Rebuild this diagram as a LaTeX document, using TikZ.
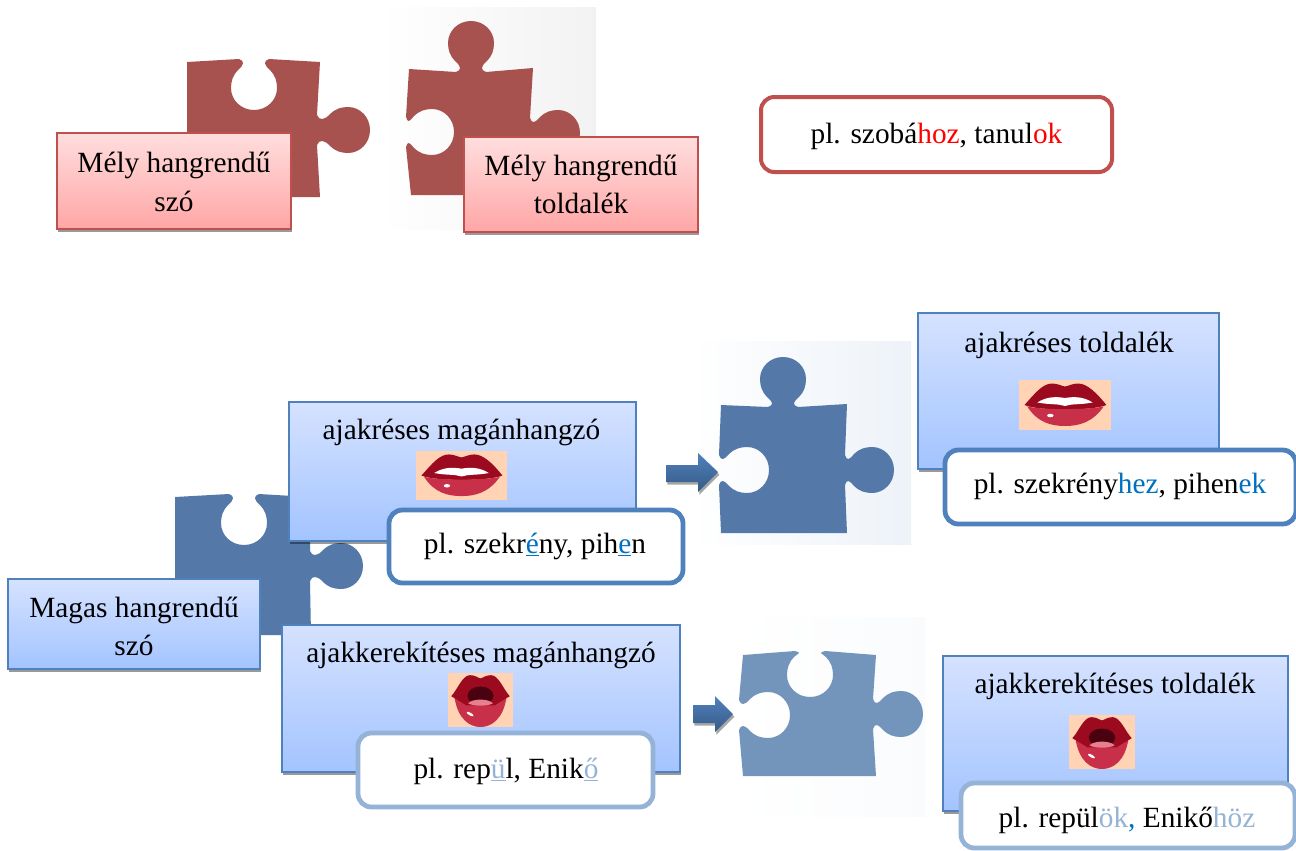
\documentclass[tikz,border=0pt]{standalone}
\usepackage{fontspec}
\setmainfont{Liberation Serif}
\usetikzlibrary{shadows}
\definecolor{redpz}{HTML}{A8524F}
\definecolor{bluepz}{HTML}{5479A9}
\definecolor{lightpz}{HTML}{7395BC}
\definecolor{redline}{HTML}{C0504D}
\definecolor{blueline}{HTML}{4F81BD}
\definecolor{paleline}{HTML}{95B3D7}
\definecolor{txtblue}{HTML}{0070C0}
\definecolor{peach}{HTML}{FFD3B4}
\newcommand{\ptab}[4]{%
 -- ([shift={(#1,#2)},rotate=#3]-#4,-15)
 .. controls ([shift={(#1,#2)},rotate=#3]{2-#4},-9) and ([shift={(#1,#2)},rotate=#3]-23,-10) .. ([shift={(#1,#2)},rotate=#3]-18,-16)
 .. controls ([shift={(#1,#2)},rotate=#3]-13,-21) and ([shift={(#1,#2)},rotate=#3]-7,-23) .. ([shift={(#1,#2)},rotate=#3]0,-23)
 .. controls ([shift={(#1,#2)},rotate=#3]12,-23) and ([shift={(#1,#2)},rotate=#3]22,-13) .. ([shift={(#1,#2)},rotate=#3]22,0)
 .. controls ([shift={(#1,#2)},rotate=#3]22,13) and ([shift={(#1,#2)},rotate=#3]12,23) .. ([shift={(#1,#2)},rotate=#3]0,23)
 .. controls ([shift={(#1,#2)},rotate=#3]-7,23) and ([shift={(#1,#2)},rotate=#3]-13,21) .. ([shift={(#1,#2)},rotate=#3]-18,16)
 .. controls ([shift={(#1,#2)},rotate=#3]-23,10) and ([shift={(#1,#2)},rotate=#3]{2-#4},9) .. ([shift={(#1,#2)},rotate=#3]-#4,15)}
\newcommand{\pnotch}[4]{%
 -- ([shift={(#1,#2)},rotate=#3]-#4,15)
 .. controls ([shift={(#1,#2)},rotate=#3]{2-#4},9) and ([shift={(#1,#2)},rotate=#3]-23,10) .. ([shift={(#1,#2)},rotate=#3]-18,16)
 .. controls ([shift={(#1,#2)},rotate=#3]-13,21) and ([shift={(#1,#2)},rotate=#3]-7,23) .. ([shift={(#1,#2)},rotate=#3]0,23)
 .. controls ([shift={(#1,#2)},rotate=#3]12,23) and ([shift={(#1,#2)},rotate=#3]22,13) .. ([shift={(#1,#2)},rotate=#3]22,0)
 .. controls ([shift={(#1,#2)},rotate=#3]22,-13) and ([shift={(#1,#2)},rotate=#3]12,-23) .. ([shift={(#1,#2)},rotate=#3]0,-23)
 .. controls ([shift={(#1,#2)},rotate=#3]-7,-23) and ([shift={(#1,#2)},rotate=#3]-13,-21) .. ([shift={(#1,#2)},rotate=#3]-18,-16)
 .. controls ([shift={(#1,#2)},rotate=#3]-23,-10) and ([shift={(#1,#2)},rotate=#3]{2-#4},-9) .. ([shift={(#1,#2)},rotate=#3]-#4,-15)}
% wide lips: x y w h in px
\newcommand{\widelips}[4]{%
 \begin{scope}[shift={(#1,#2)},x=#3*0.75pt,y=-#4*0.75pt]
  \fill[peach] (0,0) rectangle (1,1);
  \fill[lipdark] (.06,.5) .. controls (.18,.25) and (.26,.07) .. (.36,.07) .. controls (.42,.07) and (.46,.12) .. (.5,.13) .. controls (.54,.12) and (.58,.07) .. (.64,.07) .. controls (.74,.07) and (.84,.25) .. (.95,.5) .. controls (.8,.62) and (.2,.62) .. cycle;
  \fill[liplow] (.09,.53) .. controls (.2,.85) and (.35,.92) .. (.5,.92) .. controls (.65,.92) and (.8,.85) .. (.92,.53) .. controls (.75,.6) and (.25,.6) .. cycle;
  \fill[white] (.2,.45) .. controls (.3,.33) and (.4,.33) .. (.5,.36) .. controls (.6,.33) and (.7,.33) .. (.8,.45) .. controls (.65,.5) and (.58,.47) .. (.5,.52) .. controls (.42,.47) and (.35,.5) .. cycle;
  \fill[white] (.34,.71) ellipse (.035 and .035);
 \end{scope}}
\newcommand{\roundlips}[4]{%
 \begin{scope}[shift={(#1,#2)},x=#3*0.75pt,y=-#4*0.75pt]
  \fill[peach] (0,0) rectangle (1,1);
  \fill[liplow] (.1,.45) .. controls (.15,.85) and (.33,1) .. (.5,1) .. controls (.67,1) and (.85,.85) .. (.9,.45) -- cycle;
  \fill[lipdark] (.05,.43) .. controls (.15,.3) and (.22,.04) .. (.34,.04) .. controls (.42,.04) and (.46,.09) .. (.5,.1) .. controls (.54,.09) and (.58,.04) .. (.66,.04) .. controls (.78,.04) and (.85,.3) .. (.95,.43) .. controls (.85,.5) and (.78,.55) .. (.72,.6) -- (.28,.6) .. controls (.22,.55) and (.15,.5) .. cycle;
  \fill[lipin] (.5,.42) ellipse (.2 and .17);
  \fill[lipton] (.31,.56) .. controls (.38,.47) and (.62,.47) .. (.69,.56) .. controls (.62,.62) and (.38,.62) .. cycle;
  \fill[white,rotate around={-30:(.34,.76)}] (.34,.76) ellipse (.06 and .025);
 \end{scope}}
\definecolor{lipdark}{HTML}{9C0A1F}
\definecolor{liplow}{HTML}{C8304A}
\definecolor{lipin}{HTML}{4A0210}
\definecolor{lipton}{HTML}{E87F8F}
\newcommand{\ubl}[1]{{\color{txtblue}\underline{#1}}}
\newcommand{\upl}[1]{{\color{paleline}\underline{#1}}}
\newcommand{\cred}[1]{{\color{red}#1}}
\newcommand{\cblue}[1]{{\color{txtblue}#1}}
\newcommand{\cpale}[1]{{\color{paleline}#1}}
\tikzset{
 lbl/.style={inner sep=0pt,anchor=base,font=\fontsize{22}{26}\selectfont,text=black},
 flatbox/.style={inner sep=0pt,outer sep=0pt,line width=1.4pt,drop shadow={shadow xshift=1pt,shadow yshift=-2.5pt,opacity=.4,fill=black}},
 redbox/.style={flatbox,draw=redline,top color=red!13!white,bottom color=red!35!white},
 bluebox/.style={flatbox,draw=blueline,top color=blue!12!white!95!cyan,bottom color={rgb,255:red,163;green,196;blue,255}},
 exbox/.style={inner sep=0pt,outer sep=0pt,fill=white,rounded corners=10pt},
 piece/.style={line join=round},
 blockarrow/.style={top color=blueline,bottom color=blueline!70!black,drop shadow={shadow xshift=1pt,shadow yshift=-2pt,opacity=.35,fill=black}}
}
\begin{document}
\begin{tikzpicture}[x=0.75pt,y=-0.75pt]
\useasboundingbox (0,0) rectangle (1296,850);
% image backgrounds
\fill[left color=white,right color=black!5] (381,7) rectangle (596,229);
\fill[left color=white,right color=blueline!10] (691,341) rectangle (911,544);
\fill[left color=white,right color=blueline!3] (740,617) rectangle (925,816);
% puzzle pieces
\fill[redpz,piece] (187,62) \pnotch{254}{88}{-90}{29} -- (320,62) \ptab{348}{130}{0}{31} -- (320,197) -- (187,197) -- cycle;
\fill[redpz,piece] (409,69) \ptab{471}{43}{90}{29} -- (533,68) \ptab{558}{133}{0}{28} -- (533,195) -- (411,195) \pnotch{432}{132}{0}{26} -- cycle;
\fill[bluepz,piece] (175,497) \pnotch{244}{523}{-90}{29} -- (310,497) \ptab{341}{566}{0}{31} -- (311,635) -- (175,635) -- cycle;
\fill[bluepz,piece] (721,405) \ptab{783}{379}{90}{28} -- (847,404) \ptab{872}{470}{0}{27} -- (847,533) -- (721,533) \pnotch{747}{470}{0}{28} -- cycle;
\fill[lightpz,piece] (743,655) \pnotch{810}{675}{-90}{24} -- (876,655) \ptab{901}{714}{0}{28} -- (876,776) -- (743,776) \pnotch{768}{715}{0}{29} -- cycle;
% block arrows
\path[blockarrow] (666,465) -- (698,465) -- (698,453) -- (718,472) -- (698,492) -- (698,482) -- (666,482) -- cycle;
\path[blockarrow] (693,705) -- (715,705) -- (715,696) -- (733,714) -- (715,732) -- (715,723) -- (693,723) -- cycle;
% top row
\node[redbox,minimum width=234*.75pt,minimum height=96*.75pt] (deepword) at (174,181) {};
\node[lbl] (deepwordA) at (174,172) {Mély hangrendű};
\node[lbl] (deepwordB) at (174,211) {szó};
\node[redbox,minimum width=234*.75pt,minimum height=95*.75pt] (deepsuf) at (581,184.5) {};
\node[lbl] (deepsufA) at (581,175) {Mély hangrendű};
\node[lbl] (deepsufB) at (581,213) {toldalék};
\node[exbox,draw=redline,line width=3pt,minimum width=351*.75pt,minimum height=75*.75pt] (deepex) at (936.5,134.5) {};
\node[lbl] (deepexT) at (936.5,143) {pl. szobá\cred{hoz}, tanul\cred{ok}};
% lower left
\node[bluebox,minimum width=252*.75pt,minimum height=90*.75pt] (highword) at (134,624) {};
\node[lbl] (highwordA) at (134,617) {Magas hangrendű};
\node[lbl] (highwordB) at (134,655) {szó};
% unrounded vowel
\node[bluebox,minimum width=347*.75pt,minimum height=139*.75pt] (unr) at (462.5,471.5) {};
\node[lbl] (unrT) at (461.5,439) {ajakréses magánhangzó};
\widelips{416}{451}{91}{49}
\node[exbox,draw=blueline,line width=3.6pt,minimum width=294*.75pt,minimum height=73*.75pt] (unrex) at (536,546.5) {};
\node[lbl] (unrexT) at (535,553) {pl. szekr\ubl{é}ny, pih\ubl{e}n};
% unrounded suffix
\node[bluebox,minimum width=301*.75pt,minimum height=156*.75pt] (unrs) at (1068.5,391) {};
\node[lbl] (unrsT) at (1069,352) {ajakréses toldalék};
\widelips{1019}{380}{92}{50}
\node[exbox,draw=blueline,line width=3.6pt,minimum width=351*.75pt,minimum height=74*.75pt] (unrsex) at (1120.5,487) {};
\node[lbl] (unrsexT) at (1120,493) {pl. szekrény\cblue{hez}, pihen\cblue{ek}};
% rounded vowel
\node[bluebox,minimum width=398*.75pt,minimum height=147*.75pt] (rnd) at (481,698.5) {};
\node[lbl] (rndT) at (481,662) {ajakkerekítéses magánhangzó};
\roundlips{448}{673}{65}{54}
\node[exbox,draw=paleline,line width=3.6pt,minimum width=295*.75pt,minimum height=74*.75pt] (rndex) at (505.5,770) {};
\node[lbl] (rndexT) at (506,778) {pl. rep\upl{ü}l, Enik\upl{ő}};
% rounded suffix
\node[bluebox,minimum width=345*.75pt,minimum height=155*.75pt] (rnds) at (1115.5,733.5) {};
\node[lbl] (rndsT) at (1115,693) {ajakkerekítéses toldalék};
\roundlips{1069}{715}{66}{54}
\node[exbox,draw=paleline,line width=3.6pt,minimum width=334*.75pt,minimum height=65*.75pt] (rndsex) at (1128,815.5) {};
\node[lbl] (rndsexT) at (1127,827) {pl. repül\cpale{ök}\cblue{,} Enikő\cpale{höz}};
\end{tikzpicture}
\end{document}
